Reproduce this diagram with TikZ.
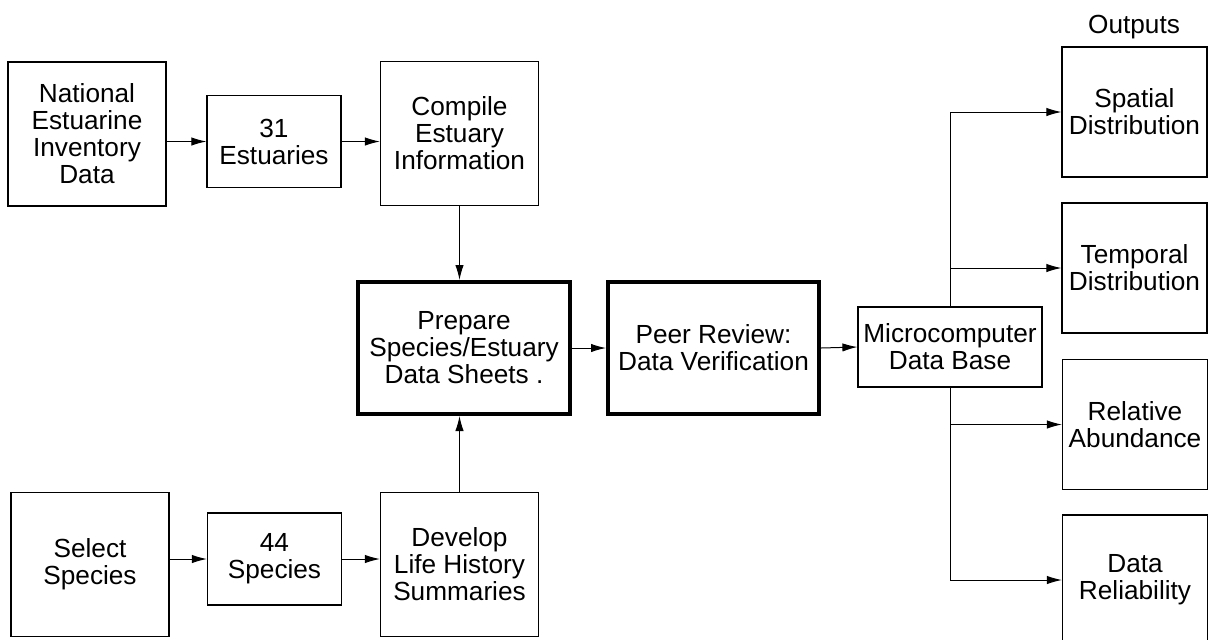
\documentclass[tikz,border=0pt]{standalone}
\usepackage{fontspec}
\setmainfont{Liberation Sans}
\usetikzlibrary{positioning, arrows.meta}

\tikzset{
  box/.style={draw, line width=0.6pt, align=center, inner sep=0pt,
    font=\fontsize{13.1}{13.5}\selectfont},
  heavybox/.style={box, line width=2pt},
  flow/.style={-{Latex[length=7.5pt,width=4.2pt]}, line width=0.5pt}
}

\begin{document}
\begin{tikzpicture}[x=0.5pt, y=-0.5pt,
    tallbox/.style={box, minimum width=79pt, minimum height=72pt},
    smallbox/.style={box, minimum width=67pt, minimum height=46pt},
    outbox/.style={box, minimum width=72.5pt, minimum height=65pt}]
  \clip (0,0) rectangle (1211,639);

  % estuary line
  \node[tallbox] (nat) at (87,134) {National\\Estuarine\\Inventory\\Data};
  \node[smallbox] (est31) at (274,141.5) {31\\Estuaries};
  \node[tallbox] (compile) at (459.5,133.5) {Compile\\Estuary\\Information};

  % species line
  \node[tallbox] (select) at (90,564.5) {Select\\Species};
  \node[smallbox] (sp44) at (274.5,559) {44\\Species};
  \node[tallbox] (develop) at (459.5,564.5) {Develop\\Life History\\Summaries};

  % middle
  \node[heavybox, minimum width=106pt, minimum height=66pt] (prepare) at (464,348)
    {Prepare\\Species/Estuary\\Data Sheets .};
  \node[heavybox, minimum width=105.5pt, minimum height=66pt] (peer) at (713.5,348)
    {Peer Review:\\Data Verification};
  \node[box, minimum width=92pt, minimum height=40pt] (micro) at (950,347)
    {Microcomputer\\Data Base};

  % outputs
  \node[font=\fontsize{13.1}{13.5}\selectfont] (outlabel) at (1134,27) {Outputs};
  \node[outbox] (spatial) at (1134.5,112) {Spatial\\Distribution};
  \node[outbox] (temporal) at (1134.5,268) {Temporal\\Distribution};
  \node[outbox] (relative) at (1135,424.5) {Relative\\Abundance};
  \node[outbox] (reliab) at (1135,580) {Data\\Reliability};

  \draw[flow] (nat.east |- est31.west) -- (est31.west);
  \draw[flow] (est31.east) -- (compile.west |- est31.east);
  \draw[flow] (compile.south) -- (compile.south |- prepare.north);
  \draw[flow] (select.east |- sp44.west) -- (sp44.west);
  \draw[flow] (sp44.east) -- (develop.west |- sp44.east);
  \draw[flow] (develop.north) -- (develop.north |- prepare.south);
  \draw[flow] (prepare.east) -- (peer.west);
  \draw[flow] (peer.east) -- (micro.west);
  %\draw[flow] (micro.east) -- ++(10,0);
  \draw[flow] (micro.north) |- (spatial.west);
  \draw[flow] (micro.north) |- (temporal.west);
  \draw[flow] (micro.south) |- (relative.west);
  \draw[flow] (micro.south) |- (reliab.west);
\end{tikzpicture}
\end{document}
